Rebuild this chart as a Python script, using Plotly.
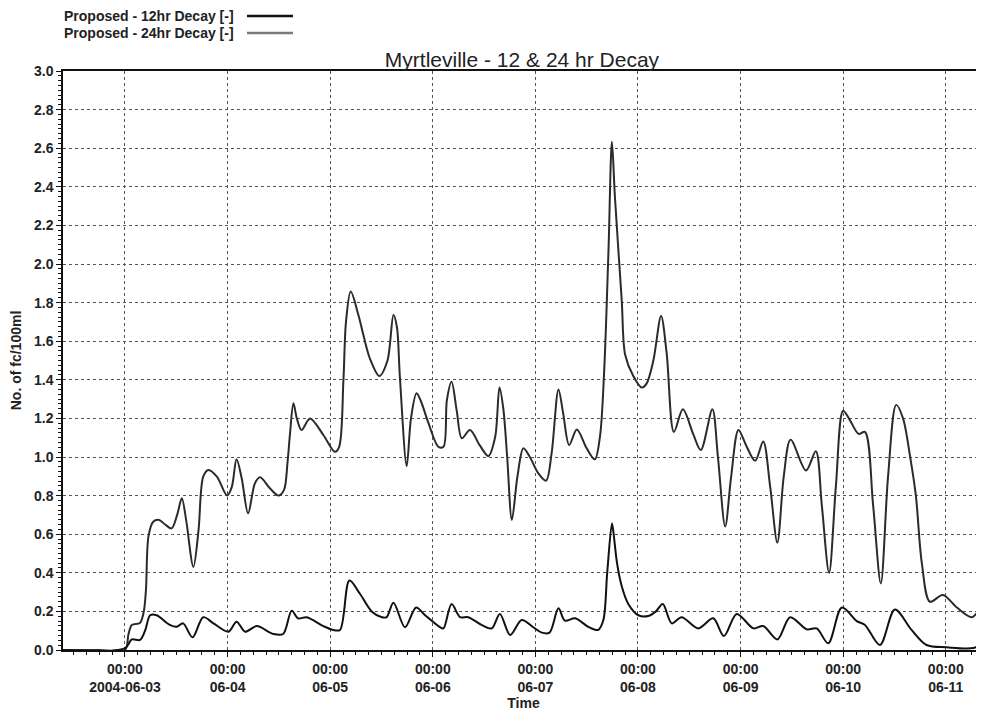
import pandas as pd
import plotly.graph_objects as go

# ---------------- data (hours after 2004-06-03 00:00, values in fc/100ml) ----------------
hours_24 = [-14.5, -6, 0.0, 0.8, 1.6, 3.5, 4.4, 4.9, 5.5, 6.6, 8.0, 9.4, 10.9, 12.2, 13.3, 14.3, 16.0, 17.2,
            18.3, 19.5, 21.5, 23.9, 25.0, 26.1, 27.3, 28.8, 30.4, 31.6, 33.9, 35.9, 37.2, 38.0, 38.6, 39.4,
            40.2, 41.3, 43.3, 46.4, 49.1, 50.1, 51.1, 51.7, 52.8, 54.6, 55.9, 57.3, 59.5, 61.4, 62.8, 63.6,
            64.3, 65.9, 66.9, 68.2, 69.2, 71.0, 73.3, 74.5, 75.3, 76.4, 77.6, 78.8, 80.7, 83.0, 85.0, 86.6,
            87.6, 88.5, 89.4, 90.5, 91.8, 93.2, 94.7, 96.7, 98.5, 99.8, 101.4, 102.5, 103.9, 105.7, 108.0,
            109.9, 111.1, 112.1, 113.1, 113.9, 114.6, 116.2, 117.0, 118.9, 120.9, 122.0, 123.6, 125.4, 126.7,
            128.4, 130.5, 132.9, 134.7, 137.4, 138.7, 140.4, 141.8, 143.5, 145.3, 147.4, 149.3, 150.9, 152.6,
            154.1, 155.7, 159.3, 161.6, 163.0, 164.7, 166.3, 168.0, 169.6, 171.6, 173.1, 175.0, 176.8, 178.5,
            180.4, 182.0, 183.6, 185.0, 186.4, 188.3, 191.3, 194.6, 198.1, 200.4, 201.4]
vals_24 = [0, 0, 0.0, 0.08, 0.13, 0.14, 0.2, 0.31, 0.59, 0.665, 0.674, 0.65, 0.63, 0.70, 0.786, 0.674, 0.43, 0.62,
           0.898, 0.933, 0.898, 0.80, 0.846, 0.988, 0.89, 0.708, 0.864, 0.895, 0.838, 0.80, 0.83, 0.967, 1.12, 1.278,
           1.2, 1.14, 1.2, 1.114, 1.027, 1.053, 1.40, 1.70, 1.857, 1.736, 1.62, 1.51, 1.42, 1.50, 1.736, 1.675,
           1.416, 0.953, 1.2, 1.33, 1.29, 1.175, 1.053, 1.053, 1.295, 1.39, 1.24, 1.097, 1.14, 1.06, 1.005, 1.105,
           1.36, 1.25, 1.0, 0.674, 0.898, 1.045, 1.0, 0.915, 0.877, 1.02, 1.35, 1.226, 1.062, 1.143, 1.045,
           0.988, 1.105, 1.45, 2.07, 2.634, 2.35, 1.81, 1.53, 1.42, 1.36, 1.38, 1.50, 1.73, 1.54,
           1.13, 1.247, 1.12, 1.036, 1.247, 1.0, 0.64, 0.9, 1.14, 1.06, 0.98, 1.08, 0.85, 0.556,
           0.9, 1.09, 0.93, 1.03, 0.75, 0.40, 0.85, 1.24, 1.19, 1.12, 1.13, 0.75, 0.345, 0.9,
           1.27, 1.2, 1.01, 0.8, 0.45, 0.25, 0.285, 0.22, 0.17, 0.216, 0.2]

hours_12 = [-14.5, 0.0, 1.6, 3.5, 4.7, 5.9, 7.4, 10.5, 12.1, 13.6, 15.8, 18.3, 20.7, 24.2, 26.1, 28.1, 30.8,
            34.7, 37.0, 39.0, 40.5, 42.5, 46.4, 48.7, 50.3, 52.5, 55.0, 57.7, 60.1, 61.2, 62.8, 65.5, 68.1,
            70.2, 73.7, 74.5, 76.4, 78.4, 80.3, 83.4, 85.8, 87.7, 90.1, 92.8, 95.5, 97.5, 99.3, 101.4, 102.9,
            105.3, 108.4, 110.7, 111.9, 112.8, 113.9, 114.2, 115.1, 116.2, 117.7, 120.1, 122.4, 124.2, 125.8,
            127.9, 130.2, 134.1, 137.6, 140.1, 143.1, 147.0, 149.3, 152.6, 155.6, 159.5, 161.8, 164.5, 167.7,
            171.2, 173.1, 176.6, 180.1, 184.0, 187.5, 192.2, 198.4, 200.7, 201.4]
vals_12 = [0, 0.01, 0.055, 0.052, 0.10, 0.18, 0.18, 0.13, 0.12, 0.138, 0.066, 0.17, 0.138, 0.095, 0.147, 0.095, 0.124,
           0.083, 0.083, 0.204, 0.164, 0.17, 0.124, 0.104, 0.104, 0.36, 0.29, 0.2, 0.17, 0.17, 0.245, 0.118, 0.22,
           0.18, 0.118, 0.112, 0.238, 0.17, 0.17, 0.13, 0.112, 0.187, 0.078, 0.155, 0.118, 0.09, 0.09, 0.216, 0.152,
           0.164, 0.12, 0.104, 0.155, 0.4, 0.656, 0.62, 0.45, 0.33, 0.24, 0.18, 0.176, 0.2, 0.238,
           0.138, 0.17, 0.112, 0.164, 0.072, 0.187, 0.112, 0.124, 0.055, 0.17, 0.107, 0.112, 0.035, 0.22,
           0.15, 0.13, 0.026, 0.21, 0.104, 0.026, 0.014, 0.01, 0.035, 0.04]

tick_days = ["2004-06-03", "2004-06-04", "2004-06-05", "2004-06-06", "2004-06-07",
             "2004-06-08", "2004-06-09", "2004-06-10", "2004-06-11"]
tick_text = ["00:00<br>2004-06-03", "00:00<br>06-04", "00:00<br>06-05", "00:00<br>06-06", "00:00<br>06-07",
             "00:00<br>06-08", "00:00<br>06-09", "00:00<br>06-10", "00:00<br>06-11"]

series_names = ["Proposed - 12hr Decay [-]", "Proposed - 24hr Decay [-]"]
chart_title = "Myrtleville - 12 & 24 hr Decay"
x_title = "Time"
y_title = "No. of fc/100ml"

# ---------------- figure ----------------
base = pd.Timestamp("2004-06-03 00:00")
t24 = base + pd.to_timedelta(hours_24, unit="h")
t12 = base + pd.to_timedelta(hours_12, unit="h")
x_start = base + pd.to_timedelta(-14.5, unit="h")
x_end = base + pd.to_timedelta(200.94, unit="h")

OFF = 8                      # page body margin offset
W, H = 984 - OFF, 712 - OFF
L, R, T, B = 63 - OFF, 0, 71 - OFF, 62
FONT = "Liberation Sans, Arial, sans-serif"

def px_x(px):
    return (px - OFF - L) / (W - L - R)

def px_y(py):
    return (H - B - (py - OFF)) / (H - B - T)

fig = go.Figure()
fig.add_trace(go.Scatter(x=t24, y=vals_24, mode="lines", name=series_names[1], showlegend=False,
                         line=dict(color="#2b2b2b", width=2, shape="spline", smoothing=0.9)))
fig.add_trace(go.Scatter(x=t12, y=vals_12, mode="lines", name=series_names[0], showlegend=False,
                         line=dict(color="#111111", width=2, shape="spline", smoothing=0.9)))

# custom legend (text then line sample, as in the reference)
legend_colors = ["#111111", "#7a7a7a"]
legend_rows = [16, 33]
for name, col, ry in zip(series_names, legend_colors, legend_rows):
    fig.add_annotation(x=px_x(62), y=px_y(ry), xref="paper", yref="paper", text=name, showarrow=False,
                       xanchor="left", yanchor="middle",
                       font=dict(family=FONT, size=14, color="#222", weight="bold"))
    fig.add_shape(type="line", xref="paper", yref="paper", x0=px_x(247), x1=px_x(293),
                  y0=px_y(ry), y1=px_y(ry), line=dict(color=col, width=2.5))

grid = dict(showgrid=True, gridcolor="#555555", gridwidth=1, griddash="3px,3px")

fig.update_layout(
    width=W, height=H,
    margin=dict(l=L, r=R, t=T, b=B, autoexpand=False),
    paper_bgcolor="white", plot_bgcolor="white",
    font=dict(family=FONT, color="#222"),
    title=dict(text=chart_title, x=px_x(522), xref="paper", xanchor="center",
               y=1 - (60 - OFF) / H, yref="container", yanchor="middle",
               font=dict(family=FONT, size=21, color="#222")),
    xaxis=dict(type="date", range=[x_start, x_end], tickmode="array", tickvals=tick_days, ticktext=tick_text,
               showline=True, linecolor="#111", linewidth=1.5, mirror=True,
               ticks="outside", ticklen=5, tickcolor="#111", tickwidth=1,
               tickfont=dict(family=FONT, size=14, color="#222", weight="bold"),
               minor=dict(dtick=3 * 3600 * 1000, ticks="outside", ticklen=3, tickcolor="#111", showgrid=False),
               title=dict(text=x_title, standoff=0, font=dict(family=FONT, size=14, color="#222", weight="bold")),
               automargin=False, zeroline=False, **grid),
    yaxis=dict(range=[0, 3.0], dtick=0.2, tick0=0, tickformat=".1f",
               showline=True, linecolor="#111", linewidth=1.5,
               ticks="outside", ticklen=5, tickcolor="#111", tickwidth=1,
               tickfont=dict(family=FONT, size=14, color="#222", weight="bold"),
               minor=dict(dtick=0.025, ticks="outside", ticklen=3, tickcolor="#111", showgrid=False),
               title=dict(text=y_title, standoff=10, font=dict(family=FONT, size=14, color="#222", weight="bold")),
               automargin=False, zeroline=False, **grid),
)

fig.write_html("out.html")
